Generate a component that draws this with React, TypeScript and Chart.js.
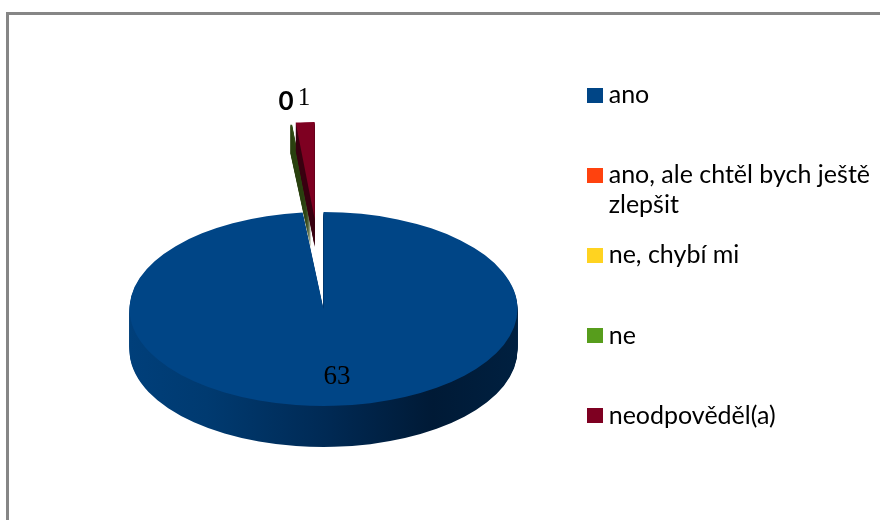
import React, { useEffect, useRef } from "react";
import { Chart, registerables } from "chart.js";

Chart.register(...registerables);

const categories = ["ano", "ano, ale chtěl bych ještě", "ne, chybí mi", "ne", "neodpověděl(a)"];
const categoryExtraLines = ["", "zlepšit", "", "", ""];
const seriesValues = [63, 0, 0, 0.1, 1];
const legendColors = ["#004586", "#ff420e", "#ffd320", "#579d1c", "#7e0021"];
const faceColors = ["#004586", "#ff420e", "#ffd320", "#2f4a13", "#7e0021"];
const wallColors = ["#002a55", "#7a2007", "#7a6510", "#2b4211", "#3a0012"];

const look = {
  cx: 323.5,
  cy: 309,
  radius: 194,
  squash: 0.5,
  explode: [0, 0, 0, 176, 180],
  depth: [41, 41, 41, 28, 28],
  explodeBlend: 0.4,
  valueLabels: [
    { index: 0, x: 337, y: 377, font: "27px 'Liberation Serif'" },
    { index: 3, x: 286, y: 102, font: "bold 26px Lato" },
    { index: 4, x: 304, y: 98, font: "25px 'Liberation Serif'" },
  ],
};

function swatch(color: string) {
  const c = document.createElement("canvas");
  c.width = 16;
  c.height = 15;
  const g = c.getContext("2d")!;
  g.fillStyle = color;
  g.fillRect(0, 0, 16, 15);
  return c;
}

function paint(ctx: any, el: any, fill: any, dy: number, explode: number, angle: number) {
  const proxy = Object.create(el, {
    options: { value: { ...el.options, backgroundColor: fill, borderWidth: 0 }, writable: true },
  });
  ctx.save();
  ctx.translate(look.cx, look.cy + dy);
  ctx.scale(1, look.squash);
  ctx.translate(Math.cos(angle) * explode, Math.sin(angle) * explode);
  ctx.translate(-el.x, -el.y);
  proxy.draw(ctx);
  ctx.restore();
}

const pie3d = {
  id: "pie3d",
  beforeDatasetDraw(chart: any, args: any) {
    const ctx = chart.ctx;
    const arcs = args.meta.data;
    const last = arcs[arcs.length - 1];
    const lastMid = (last.startAngle + last.endAngle) / 2;
    arcs.forEach((el: any, i: number) => {
      if (!seriesValues[i]) return;
      const mid = (el.startAngle + el.endAngle) / 2;
      const angle = lastMid + (mid - lastMid) * look.explodeBlend;
      let wall: any = wallColors[i];
      if (i === 0) {
        wall = ctx.createLinearGradient(el.x - look.radius, 0, el.x + look.radius, 0);
        wall.addColorStop(0, "#003f7a");
        wall.addColorStop(0.2, "#003a70");
        wall.addColorStop(0.5, "#002a55");
        wall.addColorStop(0.78, "#001a36");
        wall.addColorStop(1, "#002040");
      }
      for (let d = look.depth[i]; d >= 1; d--) paint(ctx, el, wall, d, look.explode[i], angle);
      paint(ctx, el, faceColors[i], 0, look.explode[i], angle);
    });
    ctx.save();
    ctx.fillStyle = "#000";
    ctx.textAlign = "center";
    ctx.textBaseline = "middle";
    for (const l of look.valueLabels) {
      ctx.font = l.font;
      ctx.fillText(String(Math.round(seriesValues[l.index])), l.x, l.y);
    }
    ctx.restore();
    return false;
  },
};

export default function App() {
  const ref = useRef<HTMLCanvasElement>(null);
  useEffect(() => {
    const chart = new Chart(ref.current!, {
      type: "pie",
      data: {
        labels: categories,
        datasets: [
          {
            data: seriesValues,
            backgroundColor: legendColors,
            borderWidth: 0,
            radius: look.radius,
            clip: false,
          } as any,
        ],
      },
      plugins: [pie3d],
      options: {
        responsive: false,
        animation: false,
        events: [],
        layout: { padding: { top: 62.5, right: 0, left: 0, bottom: 0 } },
        plugins: {
          tooltip: { enabled: false },
          legend: {
            position: "right",
            align: "start",
            labels: {
              usePointStyle: true,
              pointStyleWidth: 3,
              boxHeight: 16,
              padding: 20,
              color: "#000",
              font: { family: "Lato", size: 25, lineHeight: 30.1 / 25 },
              generateLabels: () =>
                categories.map((c, i) => ({
                  text: [c, categoryExtraLines[i]],
                  fillStyle: legendColors[i],
                  strokeStyle: legendColors[i],
                  lineWidth: 0,
                  pointStyle: swatch(legendColors[i]),
                  hidden: false,
                  index: i,
                })) as any,
            },
          },
        },
      },
    } as any);
    return () => chart.destroy();
  }, []);
  return (
    <div style={{ position: "fixed", inset: 0, overflow: "hidden", background: "#fff" }}>
      <canvas ref={ref} width={880} height={520} style={{ position: "absolute", left: 0, top: 0 }} />
      <div
        style={{
          position: "absolute",
          left: 6,
          top: 12,
          right: 0,
          bottom: 0,
          borderLeft: "3px solid #868686",
          borderTop: "3px solid #868686",
        }}
      />
    </div>
  );
}
